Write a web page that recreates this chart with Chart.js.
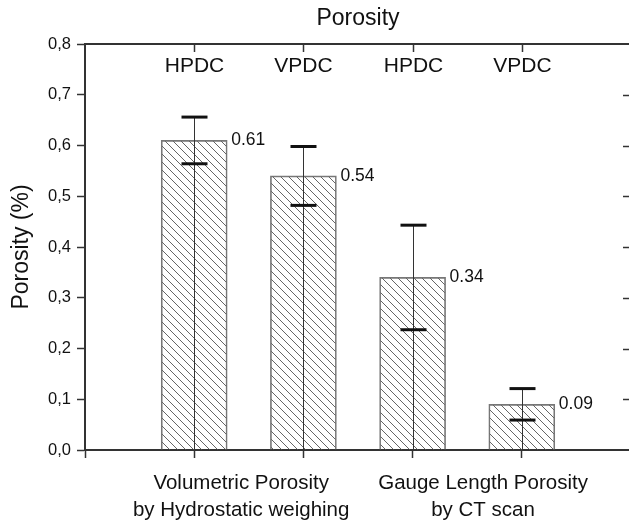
<!DOCTYPE html>
<html>
<head>
<meta charset="utf-8">
<script src="https://cdn.jsdelivr.net/npm/chart.js@4.4.1/dist/chart.umd.min.js"></script>
<style>
  html, body { margin: 0; padding: 0; background: #fff; overflow: hidden; }
  canvas { display: block; }
</style>
</head>
<body>
<canvas id="chart" width="640" height="521"></canvas>
<script>
'use strict';

// one empty slot on each side, so the bars sit at 1..4 of a 0..5 axis
const categories = ['', 'HPDC', 'VPDC', 'HPDC', 'VPDC', ''];
const porosity = [null, 0.61, 0.54, 0.34, 0.09, null];
const porosityErr = [null, 0.046, 0.058, 0.103, 0.031, null];
const groupLabels = [
  ['Volumetric Porosity', 'by Hydrostatic weighing'],
  ['Gauge Length Porosity', 'by CT scan']
];
const groupPositions = [1.43, 3.645];

const FONT = '"Liberation Sans", Arial, sans-serif';
const INK = '#111';
const AXIS = '#333';

// diagonal hatch, "\" direction
function hatchPattern() {
  const tile = document.createElement('canvas');
  tile.width = 8;
  tile.height = 8;
  const c = tile.getContext('2d');
  c.strokeStyle = '#666';
  c.lineWidth = 1;
  for (const k of [-8, 0, 8]) {
    c.beginPath();
    c.moveTo(k, 0);
    c.lineTo(k + 8, 8);
    c.stroke();
  }
  return c.createPattern(tile, 'repeat');
}

const errorBars = {
  id: 'errorBars',
  afterDatasetsDraw(chart) {
    const { ctx } = chart;
    const y = chart.scales.y;
    const meta = chart.getDatasetMeta(0);
    ctx.save();
    porosity.forEach((v, i) => {
      if (v == null) return;
      const bar = meta.data[i];
      const cx = Math.round(bar.x) + 0.5;
      const hi = y.getPixelForValue(v + porosityErr[i]);
      const lo = y.getPixelForValue(v - porosityErr[i]);
      const base = y.getPixelForValue(0);

      ctx.strokeStyle = AXIS;
      ctx.lineWidth = 1;
      ctx.beginPath();
      ctx.moveTo(cx, hi);
      ctx.lineTo(cx, base);
      ctx.stroke();

      ctx.strokeStyle = INK;
      ctx.lineWidth = 3;
      for (const py of [hi, lo]) {
        ctx.beginPath();
        ctx.moveTo(cx - 13, py);
        ctx.lineTo(cx + 13, py);
        ctx.stroke();
      }

      ctx.fillStyle = INK;
      ctx.font = '17.5px ' + FONT;
      ctx.textAlign = 'left';
      ctx.textBaseline = 'middle';
      ctx.fillText(v.toFixed(2), bar.x + bar.width / 2 + 4, bar.y);
    });
    ctx.restore();
  }
};

// inward ticks on the top and right frame, top category names, group names
const frameLabels = {
  id: 'frameLabels',
  afterDraw(chart) {
    const { ctx, chartArea } = chart;
    const top = chart.scales.xTop;
    const bottom = chart.scales.x;
    const right = chart.scales.y2;
    ctx.save();
    ctx.strokeStyle = AXIS;
    ctx.lineWidth = 1.5;
    ctx.fillStyle = INK;
    ctx.font = '21px ' + FONT;
    ctx.textAlign = 'center';
    ctx.textBaseline = 'middle';
    categories.forEach((c, i) => {
      if (!c) return;
      const px = Math.round(top.getPixelForValue(i)) + 0.5;
      ctx.beginPath();
      ctx.moveTo(px, chartArea.top);
      ctx.lineTo(px, chartArea.top + 8);
      ctx.stroke();
      ctx.fillText(c, px, chartArea.top + 22);
    });
    right.ticks.forEach(t => {
      if (t.value <= 0 || t.value >= 0.8) return;
      const py = Math.round(right.getPixelForValue(t.value)) + 0.5;
      ctx.beginPath();
      ctx.moveTo(chartArea.right - 8, py);
      ctx.lineTo(chartArea.right, py);
      ctx.stroke();
    });

    ctx.font = '20.5px ' + FONT;
    groupLabels.forEach((lines, g) => {
      const px = bottom.getPixelForValue(groupPositions[g]);
      lines.forEach((t, k) => {
        ctx.fillText(t, px, chartArea.bottom + 33 + k * 27);
      });
    });
    ctx.restore();
  }
};

new Chart(document.getElementById('chart').getContext('2d'), {
  type: 'bar',
  data: {
    labels: categories,
    datasets: [{
      data: porosity,
      backgroundColor: hatchPattern(),
      borderColor: '#777',
      borderWidth: 1,
      barThickness: 66
    }]
  },
  options: {
    responsive: false,
    animation: false,
    devicePixelRatio: 1,
    layout: { padding: 0 },
    plugins: {
      legend: { display: false },
      tooltip: { enabled: false }
    },
    scales: {
      x: {
        type: 'category',
        position: 'bottom',
        offset: false,
        grid: { offset: false, drawOnChartArea: false, tickLength: 8, tickWidth: 1.5, tickColor: AXIS },
        border: { color: AXIS, width: 2 },
        ticks: { display: false },
        afterFit(s) { s.height = 71; }
      },
      xTop: {
        type: 'category',
        position: 'top',
        offset: false,
        grid: { display: false },
        border: { color: AXIS, width: 2 },
        ticks: { display: false },
        title: {
          display: true,
          text: 'Porosity',
          color: INK,
          font: { family: FONT, size: 23 },
          padding: { top: 5, bottom: 0 }
        },
        afterFit(s) { s.height = 44; }
      },
      y: {
        position: 'left',
        min: 0,
        max: 0.8,
        grid: { drawOnChartArea: false, tickLength: 8, tickWidth: 1.5, tickColor: AXIS },
        border: { color: AXIS, width: 2 },
        ticks: {
          stepSize: 0.1,
          padding: 6,
          color: INK,
          font: { family: FONT, size: 16.5 },
          callback: v => v.toFixed(1).replace('.', ',')
        },
        title: {
          display: true,
          text: 'Porosity (%)',
          color: INK,
          font: { family: FONT, size: 23 },
          padding: { top: 8, bottom: 0 }
        },
        afterFit(s) { s.width = 85; }
      },
      y2: {
        position: 'right',
        min: 0,
        max: 0.8,
        grid: { display: false },
        border: { display: false },
        ticks: { display: false, stepSize: 0.1 },
        afterFit(s) { s.width = 9; }
      }
    }
  },
  plugins: [errorBars, frameLabels]
});
</script>
</body>
</html>
